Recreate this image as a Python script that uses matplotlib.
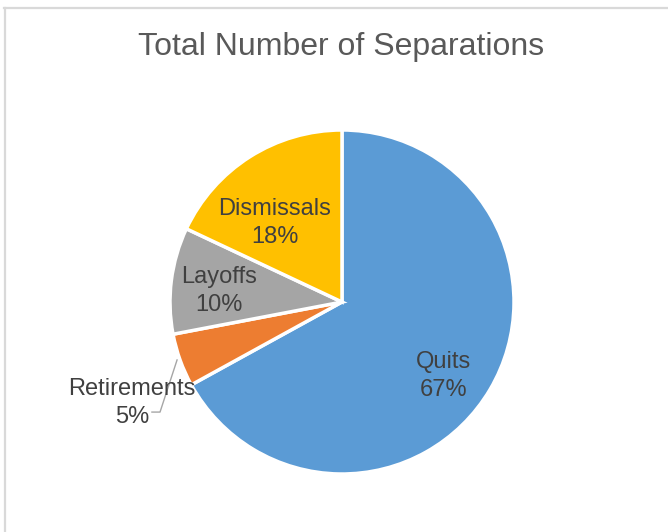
import matplotlib
matplotlib.use("Agg")
import matplotlib.pyplot as plt
from matplotlib.lines import Line2D

plt.rcParams['font.family'] = ['Liberation Sans', 'DejaVu Sans']

# data
labels = ["Quits", "Retirements", "Layoffs", "Dismissals"]
shares = [67, 5, 10, 18]
colors = ["#5B9BD5", "#ED7D31", "#A5A5A5", "#FFC000"]

# label positions (in pie-radius units)
label_pos = [(0.593, -0.43), (-1.221, -0.587), (-0.715, 0.064), (-0.39, 0.459)]

W, H = 668, 532
fig = plt.figure(figsize=(W / 100, H / 100), dpi=100)

# light chart-area border (top and left visible)
fig.add_artist(Line2D([4 / W, 1], [1 - 7.5 / H, 1 - 7.5 / H], color="#D9D9D9", lw=1.6))
fig.add_artist(Line2D([4.5 / W, 4.5 / W], [0, 1 - 7.5 / H], color="#D9D9D9", lw=1.6))

fig.text(341 / W, 1 - 47 / H, "Total Number of Separations", ha="center", va="center",
         fontsize=23, color="#595959")

cx, cy, r = 342, 302, 172
ax = fig.add_axes([(cx - r) / W, (H - cy - r) / H, 2 * r / W, 2 * r / H])
ax.pie(shares, colors=colors, startangle=90, counterclock=False, radius=1,
       wedgeprops=dict(edgecolor="white", linewidth=2.5))
ax.set_xlim(-1, 1)
ax.set_ylim(-1, 1)
ax.set_aspect("equal")
ax.axis("off")

for name, val, (x, y) in zip(labels, shares, label_pos):
    ax.text(x, y, f"{name}\n{val}%", ha="center", va="center", fontsize=17,
            color="#404040", linespacing=1.32, clip_on=False)

# leader line for Retirements
ax.plot([-1.105, -1.058, -0.959], [-0.64, -0.64, -0.337], color="#A6A6A6", lw=1,
        clip_on=False)

fig.savefig("out.png", dpi=100)
